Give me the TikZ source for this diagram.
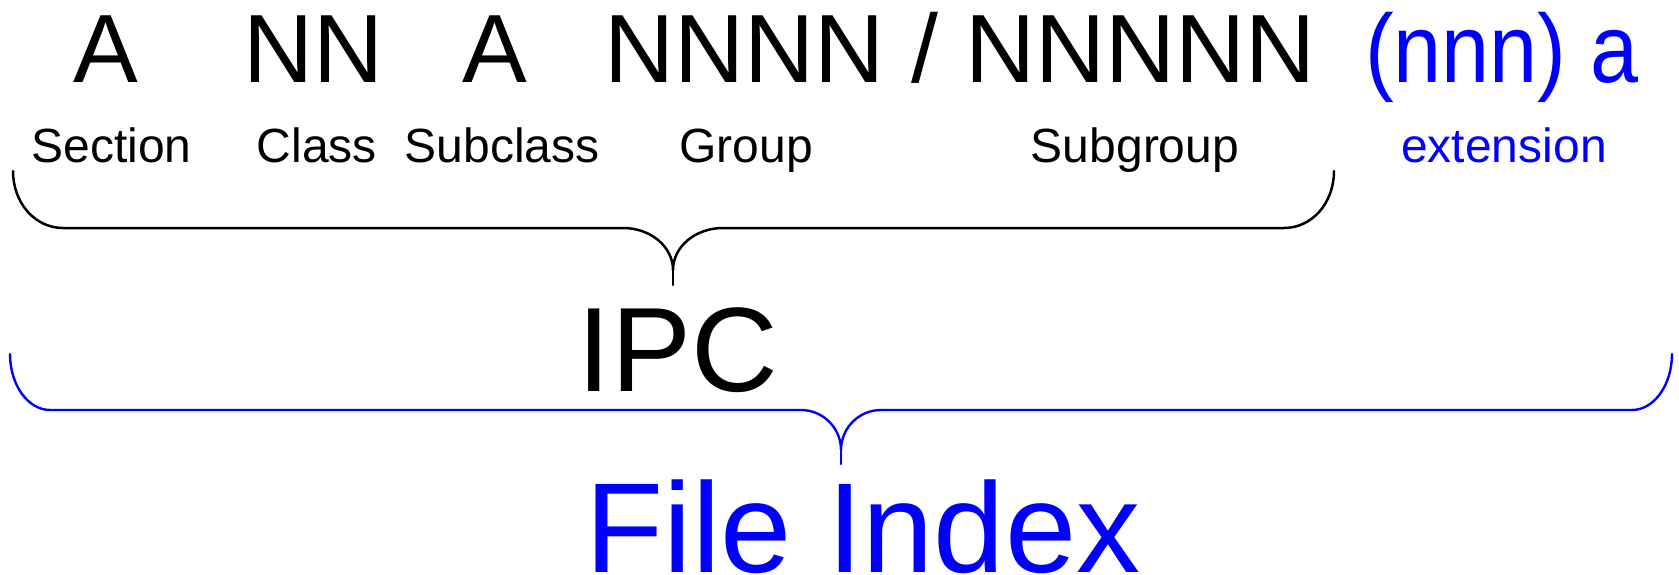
\documentclass[tikz,border=0pt]{standalone}
\usepackage{fontspec}
\setmainfont{Liberation Sans}
\definecolor{idxblue}{RGB}{0,0,255}
\tikzset{
  code/.style={inner sep=0pt, anchor=base, font=\fontsize{97}{100}\selectfont},
  part/.style={inner sep=0pt, anchor=base, font=\fontsize{48}{50}\selectfont},
  ipcbrace/.style={line width=2.5pt, line join=round, line cap=round},
  filebrace/.style={line width=2.4pt, line join=round, line cap=round, draw=idxblue},
}
\begin{document}
\begin{tikzpicture}[x=1pt,y=-1pt]
\useasboundingbox (0,0) rectangle (1679,575);

% code pattern
\node[code] (secA) at (105.5,83) {A};
\node[code] (clsN) at (313.5,83) {NN};
\node[code] (subA) at (495,83) {A};
\node[code] (grp)  at (960.5,83) {NNNN / NNNNN};
\node[code, text=idxblue] (extc) at (1502,83) {\scalebox{0.89}[1]{(nnn) a}};

% part names
\node[part] (lsec) at (111.5,163) {Section};
\node[part] (lcls) at (317,163) {Class};
\node[part] (lsub) at (502,163) {Subclass};
\node[part] (lgrp) at (746,163) {Group};
\node[part] (lsgr) at (1135,163) {Subgroup};
\node[part, text=idxblue] (lext) at (1504,163) {extension};

% big labels
\node[inner sep=0pt, anchor=base, font=\fontsize{120}{120}\selectfont] (ipc) at (678,391) {IPC};
\node[inner sep=0pt, anchor=base, text depth=0pt, text=idxblue, font=\fontsize{128}{128}\selectfont] (fidx) at (863,572) {File Index};

% brace over the IPC symbol
\coordinate (b1l) at (13,171);
\coordinate (b1r) at (1334,171);
\coordinate (b1m) at (673,270);
\coordinate (b1t) at (673,285);
\draw[ipcbrace] (b1l) .. controls (13,203) and (35,228) .. (63,228) -- (623,228)
  .. controls (651,228) and (673,247) .. (b1m)
  .. controls (673,247) and (695,228) .. (723,228) -- (1284,228)
  .. controls (1312,228) and (1334,203) .. (b1r);
\draw[ipcbrace] (b1m) -- (b1t);

% brace over the whole file index
\coordinate (b2l) at (10,354);
\coordinate (b2r) at (1672,354);
\coordinate (b2m) at (841,450);
\coordinate (b2t) at (841,464);
\draw[filebrace] (b2l) .. controls (10,385) and (28,410) .. (50,410) -- (801,410)
  .. controls (823,410) and (841,428) .. (b2m)
  .. controls (841,428) and (859,410) .. (881,410) -- (1632,410)
  .. controls (1654,410) and (1672,385) .. (b2r);
\draw[filebrace] (b2m) -- (b2t);
\end{tikzpicture}
\end{document}
